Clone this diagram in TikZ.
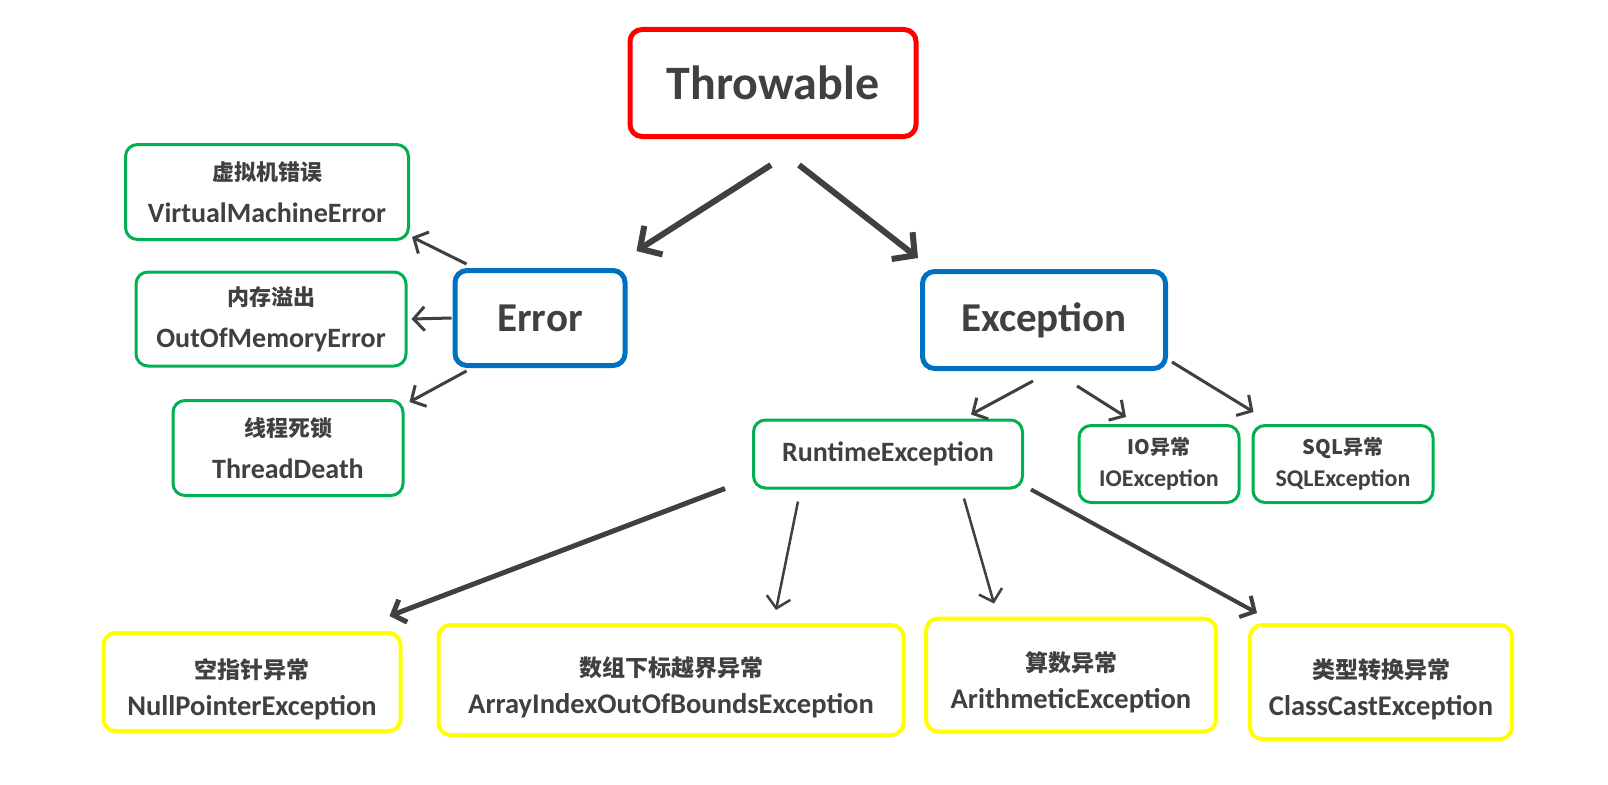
\documentclass[tikz,border=0pt]{standalone}
\usepackage{fontspec}
\setmainfont{Carlito}
\newfontfamily\cjk{Noto Sans CJK SC}
\usetikzlibrary{arrows.meta}
\definecolor{redline}{HTML}{FF0000}
\definecolor{blueline}{HTML}{0070C0}
\definecolor{greenline}{HTML}{00B050}
\definecolor{yellowline}{HTML}{FFFF00}
\definecolor{textgray}{HTML}{404040}
\newcommand{\zh}[2][22]{{\cjk\fontsize{#1}{#1}\selectfont #2}}
\newcommand{\zhleaf}[1]{\rule{0pt}{34pt}\zh[23]{#1}}

\begin{document}
\begin{tikzpicture}[x=1pt,y=-1pt,
  box/.style={draw,rounded corners=12pt,align=center,text=textgray,inner sep=0pt,
    font=\bfseries\fontsize{28}{42}\selectfont},
  rootbox/.style={box,draw=redline,line width=5pt,font=\bfseries\fontsize{48}{60}\selectfont},
  mainbox/.style={box,draw=blueline,line width=5pt,font=\bfseries\fontsize{41}{48}\selectfont},
  subbox/.style={box,draw=greenline,line width=3pt},
  smallbox/.style={subbox,font=\bfseries\fontsize{24}{32}\selectfont},
  leafbox/.style={box,draw=yellowline,line width=4pt,font=\bfseries\fontsize{28.5}{37}\selectfont},
  bigarrow/.style={draw=textgray,line width=6pt,-{Straight Barb[length=16pt,width=34pt]}},
  arrow/.style={draw=textgray,line width=3pt,-{Straight Barb[length=11pt,width=24pt]}}]
 \useasboundingbox[fill=white] (0,0) rectangle (1608,784);
 % top
 \node[rootbox,minimum width=286pt,minimum height=107pt] (thr) at (773,83) {Throwable};
 \node[mainbox,minimum width=170pt,minimum height=95pt] (err) at (540,318) {Error};
 \node[mainbox,minimum width=243pt,minimum height=97pt] (exc) at (1044,320) {Exception};
 % errors
 \node[subbox,minimum width=283pt,minimum height=95pt] (vme) at (267,192) {\zh{虚拟机错误}\\VirtualMachineError};
 \node[subbox,minimum width=270pt,minimum height=94pt] (oom) at (271,319) {\zh{内存溢出}\\OutOfMemoryError};
 \node[subbox,minimum width=230pt,minimum height=95pt] (td)  at (288,448) {\zh{线程死锁}\\ThreadDeath};
 % exceptions
 \node[subbox,minimum width=269pt,minimum height=68pt] (rt)  at (888,454) {RuntimeException};
 \node[smallbox,minimum width=160pt,minimum height=77pt] (io)  at (1159,464) {\zh[20]{IO异常}\\IOException};
 \node[smallbox,minimum width=180pt,minimum height=77pt] (sql) at (1343,464) {\zh[20]{SQL异常}\\SQLException};
 % runtime
 \node[leafbox,minimum width=297pt,minimum height=98pt]  (np) at (252,682)  {\zhleaf{空指针异常}\\NullPointerException};
 \node[leafbox,minimum width=465pt,minimum height=110pt] (ai) at (671,680)  {\zhleaf{数组下标越界异常}\\ArrayIndexOutOfBoundsException};
 \node[leafbox,minimum width=290pt,minimum height=113pt] (ar) at (1071,675) {\zhleaf{算数异常}\\ArithmeticException};
 \node[leafbox,minimum width=262pt,minimum height=114pt] (cc) at (1381,682) {\zhleaf{类型转换异常}\\ClassCastException};
 % arrows
 \draw[bigarrow] ([shift={(-2,26)}]thr.south) -- ([shift={(9,-17)}]err.north east);
 \draw[bigarrow] ([shift={(26,26)}]thr.south) -- ([shift={(-2,-11)}]exc.north west);
 \draw[arrow] ([shift={(14,-4)}]err.north west) -- ([shift={(2,-4)}]vme.south east);
 \draw[arrow] ([shift={(-1,0)}]err.west) -- ([shift={(4,0)}]oom.east);
 \draw[arrow] ([shift={(14,3)}]err.south west) -- ([shift={(5,3)}]td.north east);
 \draw[arrow] ([shift={(-11,10)}]exc.south) -- ([shift={(-53,-4)}]rt.north east);
 \draw[arrow] ([shift={(33,15)}]exc.south) -- ([shift={(-33,-7)}]io.north);
 \draw[arrow] ([shift={(4,-9)}]exc.south east) -- ([shift={(2,-12)}]sql.north west);
 \draw[arrow,line width=5pt] ([shift={(-27,-1)}]rt.south west) -- ([shift={(-13,-15)}]np.north east);
 \draw[arrow,line width=2.5pt] ([shift={(-90,12)}]rt.south) -- ([shift={(105,-13)}]ai.north);
 \draw[arrow,line width=2.5pt] ([shift={(76,9)}]rt.south) -- ([shift={(-77,-13)}]ar.north);
 \draw[arrow,line width=4pt] ([shift={(7,0)}]rt.south east) -- ([shift={(9,-10)}]cc.north west);
\end{tikzpicture}
\end{document}
